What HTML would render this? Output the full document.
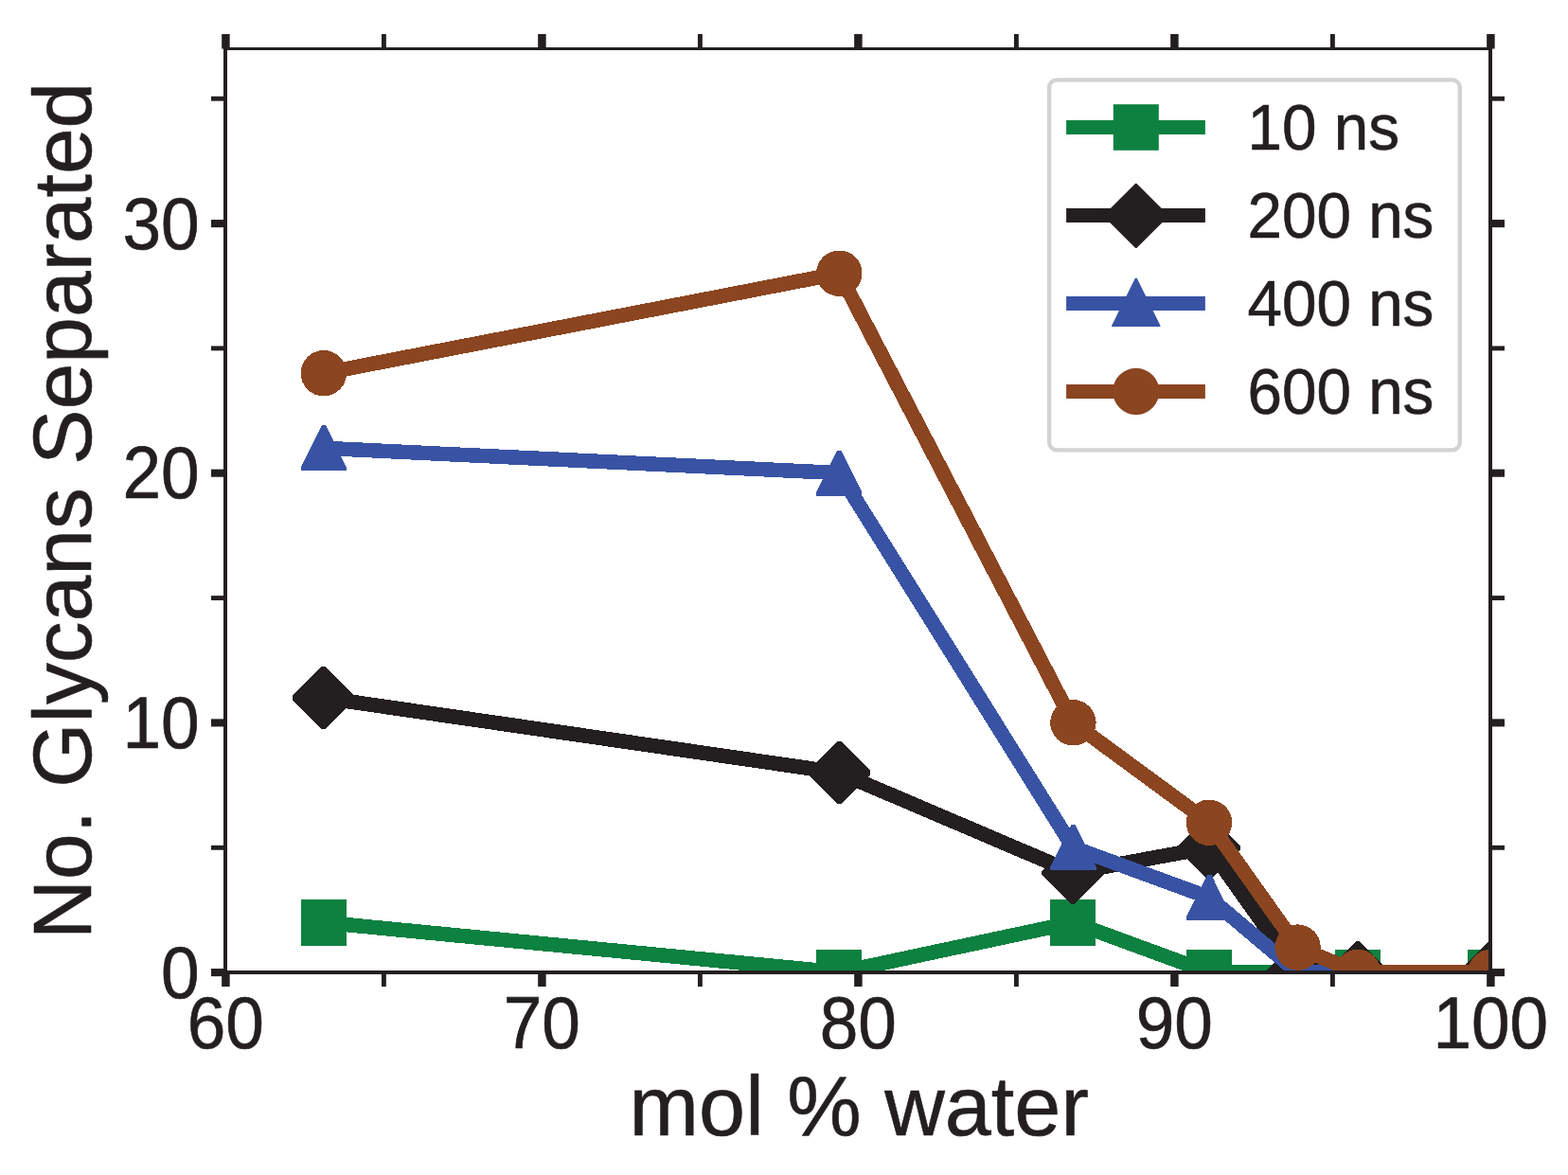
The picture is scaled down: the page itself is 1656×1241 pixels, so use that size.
<!DOCTYPE html>
<html lang="en"><head><meta charset="utf-8"><title>No. Glycans Separated vs mol % water</title>
<style>html,body{margin:0;padding:0;background:#fff}body{width:1656px;height:1241px;overflow:hidden}svg{display:block}text{font-family:"Liberation Sans",Arial,Helvetica,sans-serif;fill:#231f20;stroke:#231f20;stroke-width:0.6px;stroke-linejoin:round}</style></head><body>
<svg width="1656" height="1241" viewBox="0 0 1656 1241">
<rect width="1656" height="1241" fill="#ffffff"/>
<defs><clipPath id="ax"><rect x="238.3" y="51.4" width="1336.0" height="975.6"/></clipPath></defs>
<g clip-path="url(#ax)" shape-rendering="crispEdges">
<polyline points="341.8,974.3 886.3,1027.0 1133.4,974.3 1277.0,1027.0 1370.6,1027.0 1434.0,1027.0 1574.3,1027.0" fill="none" stroke="#0d8140" stroke-width="15.5" stroke-linejoin="miter" stroke-linecap="butt"/>
<rect x="317.8" y="950.0" width="48" height="48.6" fill="#0d8140"/>
<rect x="862.3" y="1002.7" width="48" height="48.6" fill="#0d8140"/>
<rect x="1109.4" y="950.0" width="48" height="48.6" fill="#0d8140"/>
<rect x="1253.0" y="1002.7" width="48" height="48.6" fill="#0d8140"/>
<rect x="1346.6" y="1002.7" width="48" height="48.6" fill="#0d8140"/>
<rect x="1410.0" y="1002.7" width="48" height="48.6" fill="#0d8140"/>
<rect x="1550.3" y="1002.7" width="48" height="48.6" fill="#0d8140"/>
<polyline points="341.8,737.0 886.3,816.1 1133.4,921.5 1277.0,895.2 1370.6,1027.0 1434.0,1027.0 1574.3,1027.0" fill="none" stroke="#231f20" stroke-width="15.5" stroke-linejoin="miter" stroke-linecap="butt"/>
<polygon points="340.04,703.86 343.64,703.86 374.94,735.16 374.94,738.76 343.64,770.06 340.04,770.06 308.74,738.76 308.74,735.16" fill="#231f20"/>
<polygon points="884.46,782.96 888.06,782.96 919.36,814.26 919.36,817.86 888.06,849.16 884.46,849.16 853.16,817.86 853.16,814.26" fill="#231f20"/>
<polygon points="1131.62,888.43 1135.22,888.43 1166.52,919.73 1166.52,923.33 1135.22,954.63 1131.62,954.63 1100.32,923.33 1100.32,919.73" fill="#231f20"/>
<polygon points="1275.24,862.06 1278.84,862.06 1310.14,893.36 1310.14,896.96 1278.84,928.26 1275.24,928.26 1243.94,896.96 1243.94,893.36" fill="#231f20"/>
<polygon points="1368.76,993.90 1372.36,993.90 1403.66,1025.20 1403.66,1028.80 1372.36,1060.10 1368.76,1060.10 1337.46,1028.80 1337.46,1025.20" fill="#231f20"/>
<polygon points="1432.22,993.90 1435.82,993.90 1467.12,1025.20 1467.12,1028.80 1435.82,1060.10 1432.22,1060.10 1400.92,1028.80 1400.92,1025.20" fill="#231f20"/>
<polygon points="1572.50,993.90 1576.10,993.90 1607.40,1025.20 1607.40,1028.80 1576.10,1060.10 1572.50,1060.10 1541.20,1028.80 1541.20,1025.20" fill="#231f20"/>
<polyline points="341.8,473.3 886.3,499.6 1133.4,895.2 1277.0,947.9 1370.6,1027.0 1434.0,1027.0 1574.3,1027.0" fill="none" stroke="#3953a4" stroke-width="15.5" stroke-linejoin="miter" stroke-linecap="butt"/>
<polygon points="339.64,449.28 344.04,449.28 365.99,493.58 365.99,497.48 317.69,497.48 317.69,493.58" fill="#3953a4"/>
<polygon points="884.06,475.65 888.46,475.65 910.41,519.95 910.41,523.85 862.11,523.85 862.11,519.95" fill="#3953a4"/>
<polygon points="1131.22,871.16 1135.62,871.16 1157.57,915.46 1157.57,919.36 1109.27,919.36 1109.27,915.46" fill="#3953a4"/>
<polygon points="1274.84,923.90 1279.24,923.90 1301.19,968.20 1301.19,972.10 1252.89,972.10 1252.89,968.20" fill="#3953a4"/>
<polygon points="1368.36,1003.00 1372.76,1003.00 1394.71,1047.30 1394.71,1051.20 1346.41,1051.20 1346.41,1047.30" fill="#3953a4"/>
<polygon points="1572.10,1003.00 1576.50,1003.00 1598.45,1047.30 1598.45,1051.20 1550.15,1051.20 1550.15,1047.30" fill="#3953a4"/>
<polyline points="341.8,394.2 886.3,288.7 1133.4,763.3 1277.0,868.8 1370.6,1000.6 1434.0,1027.0 1574.3,1027.0" fill="none" stroke="#8b4520" stroke-width="15.5" stroke-linejoin="miter" stroke-linecap="butt"/>
<circle cx="341.8" cy="394.2" r="24.2" fill="#8b4520"/>
<circle cx="886.3" cy="288.7" r="24.2" fill="#8b4520"/>
<circle cx="1133.4" cy="763.3" r="24.2" fill="#8b4520"/>
<circle cx="1277.0" cy="868.8" r="24.2" fill="#8b4520"/>
<circle cx="1370.6" cy="1000.6" r="24.2" fill="#8b4520"/>
<circle cx="1434.0" cy="1027.0" r="24.2" fill="#8b4520"/>
<circle cx="1574.3" cy="1027.0" r="24.2" fill="#8b4520"/>
</g>
<g stroke="#231f20" fill="none" stroke-linecap="butt">
<line x1="238.4" y1="1027" x2="238.4" y2="1042" stroke-width="8.5"/>
<line x1="238.4" y1="51.5" x2="238.4" y2="36" stroke-width="8.5"/>
<line x1="405.4" y1="1027" x2="405.4" y2="1042" stroke-width="4.9"/>
<line x1="405.4" y1="51.5" x2="405.4" y2="36" stroke-width="4.9"/>
<line x1="572.4" y1="1027" x2="572.4" y2="1042" stroke-width="8.5"/>
<line x1="572.4" y1="51.5" x2="572.4" y2="36" stroke-width="8.5"/>
<line x1="739.4" y1="1027" x2="739.4" y2="1042" stroke-width="4.9"/>
<line x1="739.4" y1="51.5" x2="739.4" y2="36" stroke-width="4.9"/>
<line x1="906.4" y1="1027" x2="906.4" y2="1042" stroke-width="8.5"/>
<line x1="906.4" y1="51.5" x2="906.4" y2="36" stroke-width="8.5"/>
<line x1="1073.4" y1="1027" x2="1073.4" y2="1042" stroke-width="4.9"/>
<line x1="1073.4" y1="51.5" x2="1073.4" y2="36" stroke-width="4.9"/>
<line x1="1240.4" y1="1027" x2="1240.4" y2="1042" stroke-width="8.5"/>
<line x1="1240.4" y1="51.5" x2="1240.4" y2="36" stroke-width="8.5"/>
<line x1="1407.4" y1="1027" x2="1407.4" y2="1042" stroke-width="4.9"/>
<line x1="1407.4" y1="51.5" x2="1407.4" y2="36" stroke-width="4.9"/>
<line x1="1574.4" y1="1027" x2="1574.4" y2="1042" stroke-width="8.5"/>
<line x1="1574.4" y1="51.5" x2="1574.4" y2="36" stroke-width="8.5"/>
<line x1="238" y1="1027.1" x2="223" y2="1027.1" stroke-width="8.1"/>
<line x1="1574" y1="1027.1" x2="1589" y2="1027.1" stroke-width="8.1"/>
<line x1="238" y1="895.3" x2="223" y2="895.3" stroke-width="4.9"/>
<line x1="1574" y1="895.3" x2="1589" y2="895.3" stroke-width="4.9"/>
<line x1="238" y1="763.4" x2="223" y2="763.4" stroke-width="8.1"/>
<line x1="1574" y1="763.4" x2="1589" y2="763.4" stroke-width="8.1"/>
<line x1="238" y1="631.6" x2="223" y2="631.6" stroke-width="4.9"/>
<line x1="1574" y1="631.6" x2="1589" y2="631.6" stroke-width="4.9"/>
<line x1="238" y1="499.7" x2="223" y2="499.7" stroke-width="8.1"/>
<line x1="1574" y1="499.7" x2="1589" y2="499.7" stroke-width="8.1"/>
<line x1="238" y1="367.9" x2="223" y2="367.9" stroke-width="4.9"/>
<line x1="1574" y1="367.9" x2="1589" y2="367.9" stroke-width="4.9"/>
<line x1="238" y1="236.1" x2="223" y2="236.1" stroke-width="8.1"/>
<line x1="1574" y1="236.1" x2="1589" y2="236.1" stroke-width="8.1"/>
<line x1="238" y1="104.2" x2="223" y2="104.2" stroke-width="4.9"/>
<line x1="1574" y1="104.2" x2="1589" y2="104.2" stroke-width="4.9"/>
<rect x="236" y="50" width="1340" height="3" fill="#231f20" stroke="none"/>
<rect x="236" y="1025" width="1340" height="4" fill="#231f20" stroke="none"/>
<rect x="236" y="50" width="4" height="979" fill="#231f20" stroke="none"/>
<rect x="1572" y="50" width="4" height="979" fill="#231f20" stroke="none"/>
</g>
<text transform="translate(238.3 1107.2) scale(1 1.06)" font-size="73" text-anchor="middle">60</text>
<text transform="translate(572.3 1107.2) scale(1 1.06)" font-size="73" text-anchor="middle">70</text>
<text transform="translate(906.3 1107.2) scale(1 1.06)" font-size="73" text-anchor="middle">80</text>
<text transform="translate(1240.3 1107.2) scale(1 1.06)" font-size="73" text-anchor="middle">90</text>
<text transform="translate(1574.3 1107.2) scale(1 1.06)" font-size="73" text-anchor="middle">100</text>
<text transform="translate(210.6 1053.6) scale(1 1.06)" font-size="73" text-anchor="end">0</text>
<text transform="translate(210.6 789.9) scale(1 1.06)" font-size="73" text-anchor="end">10</text>
<text transform="translate(210.6 526.2) scale(1 1.06)" font-size="73" text-anchor="end">20</text>
<text transform="translate(210.6 262.6) scale(1 1.06)" font-size="73" text-anchor="end">30</text>
<text transform="translate(907.2 1198.8)" font-size="88.2" text-anchor="middle">mol % water</text>
<text transform="translate(95.9 539.5) rotate(-90)" font-size="87.6" text-anchor="middle">No. Glycans Separated</text>
<rect x="1108.1" y="84.4" width="433.7" height="391" rx="8.2" ry="8.2" fill="#ffffff" stroke="#d1d3d4" stroke-width="4.4"/>
<line x1="1126.1" y1="134.5" x2="1272.9" y2="134.5" stroke="#0d8140" stroke-width="15"/>
<rect x="1175.8" y="110.2" width="48" height="48.6" fill="#0d8140"/>
<text transform="translate(1317.5 158.3) scale(1 1.04)" font-size="65.6" text-anchor="start">10 ns</text>
<line x1="1126.1" y1="227.4" x2="1272.9" y2="227.4" stroke="#231f20" stroke-width="15"/>
<polygon points="1199.20,193.65 1200.40,193.65 1234.00,227.25 1234.00,228.45 1200.40,262.05 1199.20,262.05 1165.60,228.45 1165.60,227.25" fill="#231f20"/>
<text transform="translate(1317.5 251.2) scale(1 1.04)" font-size="65.6" text-anchor="start">200 ns</text>
<line x1="1126.1" y1="320.4" x2="1272.9" y2="320.4" stroke="#3953a4" stroke-width="15"/>
<polygon points="1198.90,293.80 1200.70,293.80 1225.45,343.70 1225.45,344.90 1174.15,344.90 1174.15,343.70" fill="#3953a4"/>
<text transform="translate(1317.5 344.2) scale(1 1.04)" font-size="65.6" text-anchor="start">400 ns</text>
<line x1="1126.1" y1="413.4" x2="1272.9" y2="413.4" stroke="#8b4520" stroke-width="15"/>
<circle cx="1199.8" cy="413.4" r="24.6" fill="#8b4520"/>
<text transform="translate(1317.5 437.2) scale(1 1.04)" font-size="65.6" text-anchor="start">600 ns</text>
</svg></body></html>
